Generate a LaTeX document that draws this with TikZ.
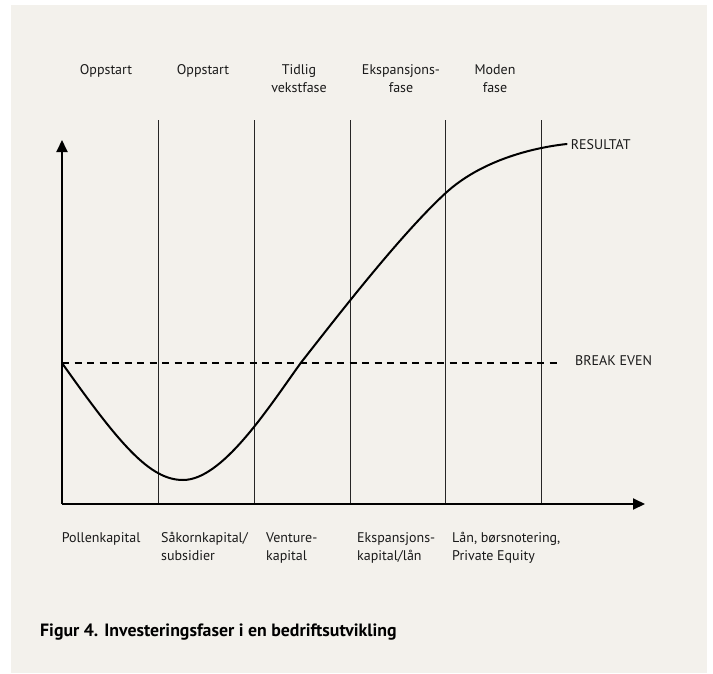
\documentclass[tikz,border=0pt]{standalone}
\usepackage{fontspec}
\setmainfont{PT Sans}
\usetikzlibrary{arrows.meta}
\definecolor{bgbeige}{HTML}{F3F1EC}
\definecolor{ink}{HTML}{1A1A1A}
\tikzset{
  lbl/.style={font=\fontsize{14}{18}\selectfont, text=ink, inner sep=0pt, align=center},
  lbll/.style={lbl, align=left, anchor=west},
  axisline/.style={line width=2pt, -{Triangle[length=12pt,width=11pt]}},
  phaseline/.style={line width=0.9pt, draw=black!85},
  curveline/.style={line width=2pt, line cap=round},
  evenline/.style={line width=1.6pt, dash pattern=on 7pt off 5.5pt}
}
\begin{document}
\begin{tikzpicture}[x=1pt,y=-1pt]
\useasboundingbox (0,0) rectangle (713,673);
\fill[white] (0,0) rectangle (713,673);
\fill[bgbeige] (11,5) rectangle (707,673);
% coordinates
\coordinate (O) at (62,504);
\coordinate (Ytip) at (62,140);
\coordinate (Xtip) at (645,504);
% phase lines
\foreach \x/\n in {158.5/a,254.3/b,350/c,445.7/d,541.7/e}{
  \coordinate (t\n) at (\x,120);
  \coordinate (b\n) at (\x,504);
  \draw[phaseline] (t\n) -- (b\n);
}
% break even
\coordinate (be0) at (62,363);
\coordinate (be1) at (558,363);
\draw[evenline] (be0) -- (be1);
% axes
\draw[axisline] (O) -- (Ytip);
\draw[axisline] (O) -- (Xtip);
% curve
\coordinate (c0) at (62,363);
\coordinate (cmin) at (183,480);
\coordinate (cbe) at (300.7,363);
\coordinate (c3) at (445.7,193);
\coordinate (cend) at (566.7,144);
\draw[curveline] (c0) .. controls (120,445) and (150,480) .. (cmin)
  .. controls (222,480) and (267,410) .. (cbe)
  .. controls (336,318) and (400,235) .. (c3)
  .. controls (480,161.5) and (530,148) .. (cend);
% right labels
\node[lbll] (res) at (570.7,145) {RESULTAT};
\node[lbll] (bel) at (575,361) {BREAK EVEN};
% top labels (base = last line)
\node[lbl, anchor=base] (p1) at (106,74) {Oppstart};
\node[lbl, anchor=base] (p2) at (203,74) {Oppstart};
\node[lbl, anchor=base] (p3) at (299,92) {Tidlig\\vekstfase};
\node[lbl, anchor=base] (p4) at (401,92) {Ekspansjons-\\fase};
\node[lbl, anchor=base] (p5) at (495,92) {Moden\\fase};
% bottom labels
\node[lbll, anchor=base west] (k1) at (61.6,542) {Pollenkapital};
\node[lbll, anchor=base west] (k2) at (161,560) {Såkornkapital/\\subsidier};
\node[lbll, anchor=base west] (k3) at (266,560) {Venture-\\kapital};
\node[lbll, anchor=base west] (k4) at (357,560) {Ekspansjons-\\kapital/lån};
\node[lbll, anchor=base west] (k5) at (452,560) {Lån, børsnotering,\\Private Equity};
% caption
\node[anchor=base west, inner sep=0pt, text=black, font=\fontsize{17.8}{20}\selectfont\bfseries] (cap) at (40,636) {Figur 4. Investeringsfaser i en bedriftsutvikling};
\end{tikzpicture}
\end{document}
